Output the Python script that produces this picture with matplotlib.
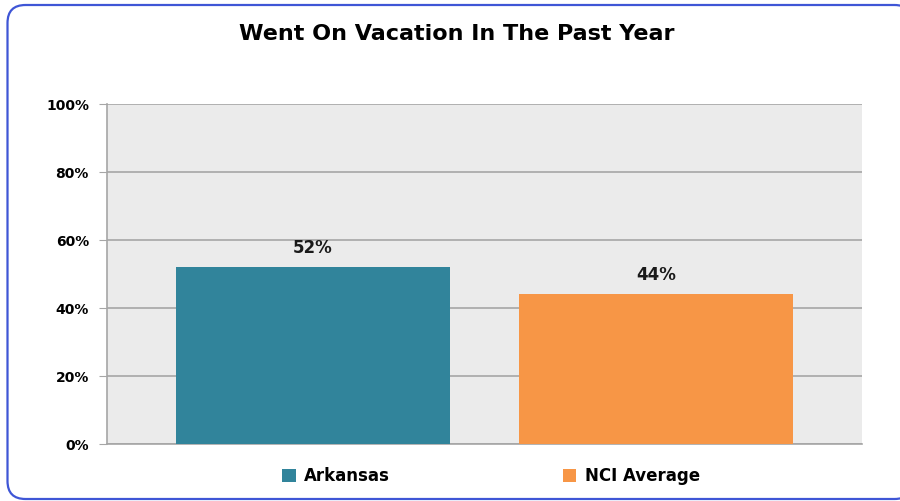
import matplotlib.pyplot as plt
from matplotlib.patches import FancyBboxPatch

# chart data
series = ["Arkansas", "NCI Average"]
values = [52, 44]
colors = ["#31849b", "#f79646"]
yticks = [0, 20, 40, 60, 80, 100]

fig = plt.figure(figsize=(9, 5.01), dpi=100)
W, H = 900, 501

# rounded blue frame around the chart (pixel-based background axes)
bg = fig.add_axes([0, 0, 1, 1], zorder=-1)
bg.set_xlim(0, W)
bg.set_ylim(H, 0)
bg.axis("off")
bg.add_patch(FancyBboxPatch((7.5, 5), 905, 494,
                            boxstyle="round,pad=0,rounding_size=18",
                            facecolor="white", edgecolor="#3f56d6",
                            linewidth=1.6, clip_on=False))

ax = fig.add_axes([107 / W, 1 - 444 / H, (862 - 107) / W, (444 - 104) / H])
ax.set_facecolor("#ebebeb")

xs = range(len(values))
bars = ax.bar(xs, values, width=0.8, color=colors, label=series, zorder=3)
for x, v in zip(xs, values):
    ax.text(x, v + 3, f"{v}%", ha="center", va="bottom",
            fontsize=12, fontweight="bold", color="#1a1a1a")

ax.set_xlim(-0.6, 1.6)
ax.set_ylim(0, 100)
ax.set_yticks(yticks)
ax.set_yticklabels([f"{t}%" for t in yticks], fontsize=10, fontweight="bold")
ax.set_xticks([])
ax.yaxis.grid(True, color="#a6a6a6", linewidth=1.2, zorder=1)
ax.set_axisbelow(True)
ax.tick_params(axis="y", length=6, color="#a6a6a6", pad=7)

for side in ["top", "right"]:
    ax.spines[side].set_visible(False)
for side in ["left", "bottom"]:
    ax.spines[side].set_color("#a6a6a6")
    ax.spines[side].set_linewidth(1.2)

fig.text(457 / W, 1 - 34 / H, "Went On Vacation In The Past Year",
         ha="center", va="center", fontsize=16, fontweight="bold")

leg = fig.legend(handles=bars, labels=series, loc="center",
                 bbox_to_anchor=(491 / W, 1 - 476 / H), ncol=2,
                 frameon=False, prop={"size": 12, "weight": "bold"},
                 handlelength=0.8, handleheight=0.8, handletextpad=0.5,
                 columnspacing=10.4)

fig.savefig("out.png", dpi=100)
